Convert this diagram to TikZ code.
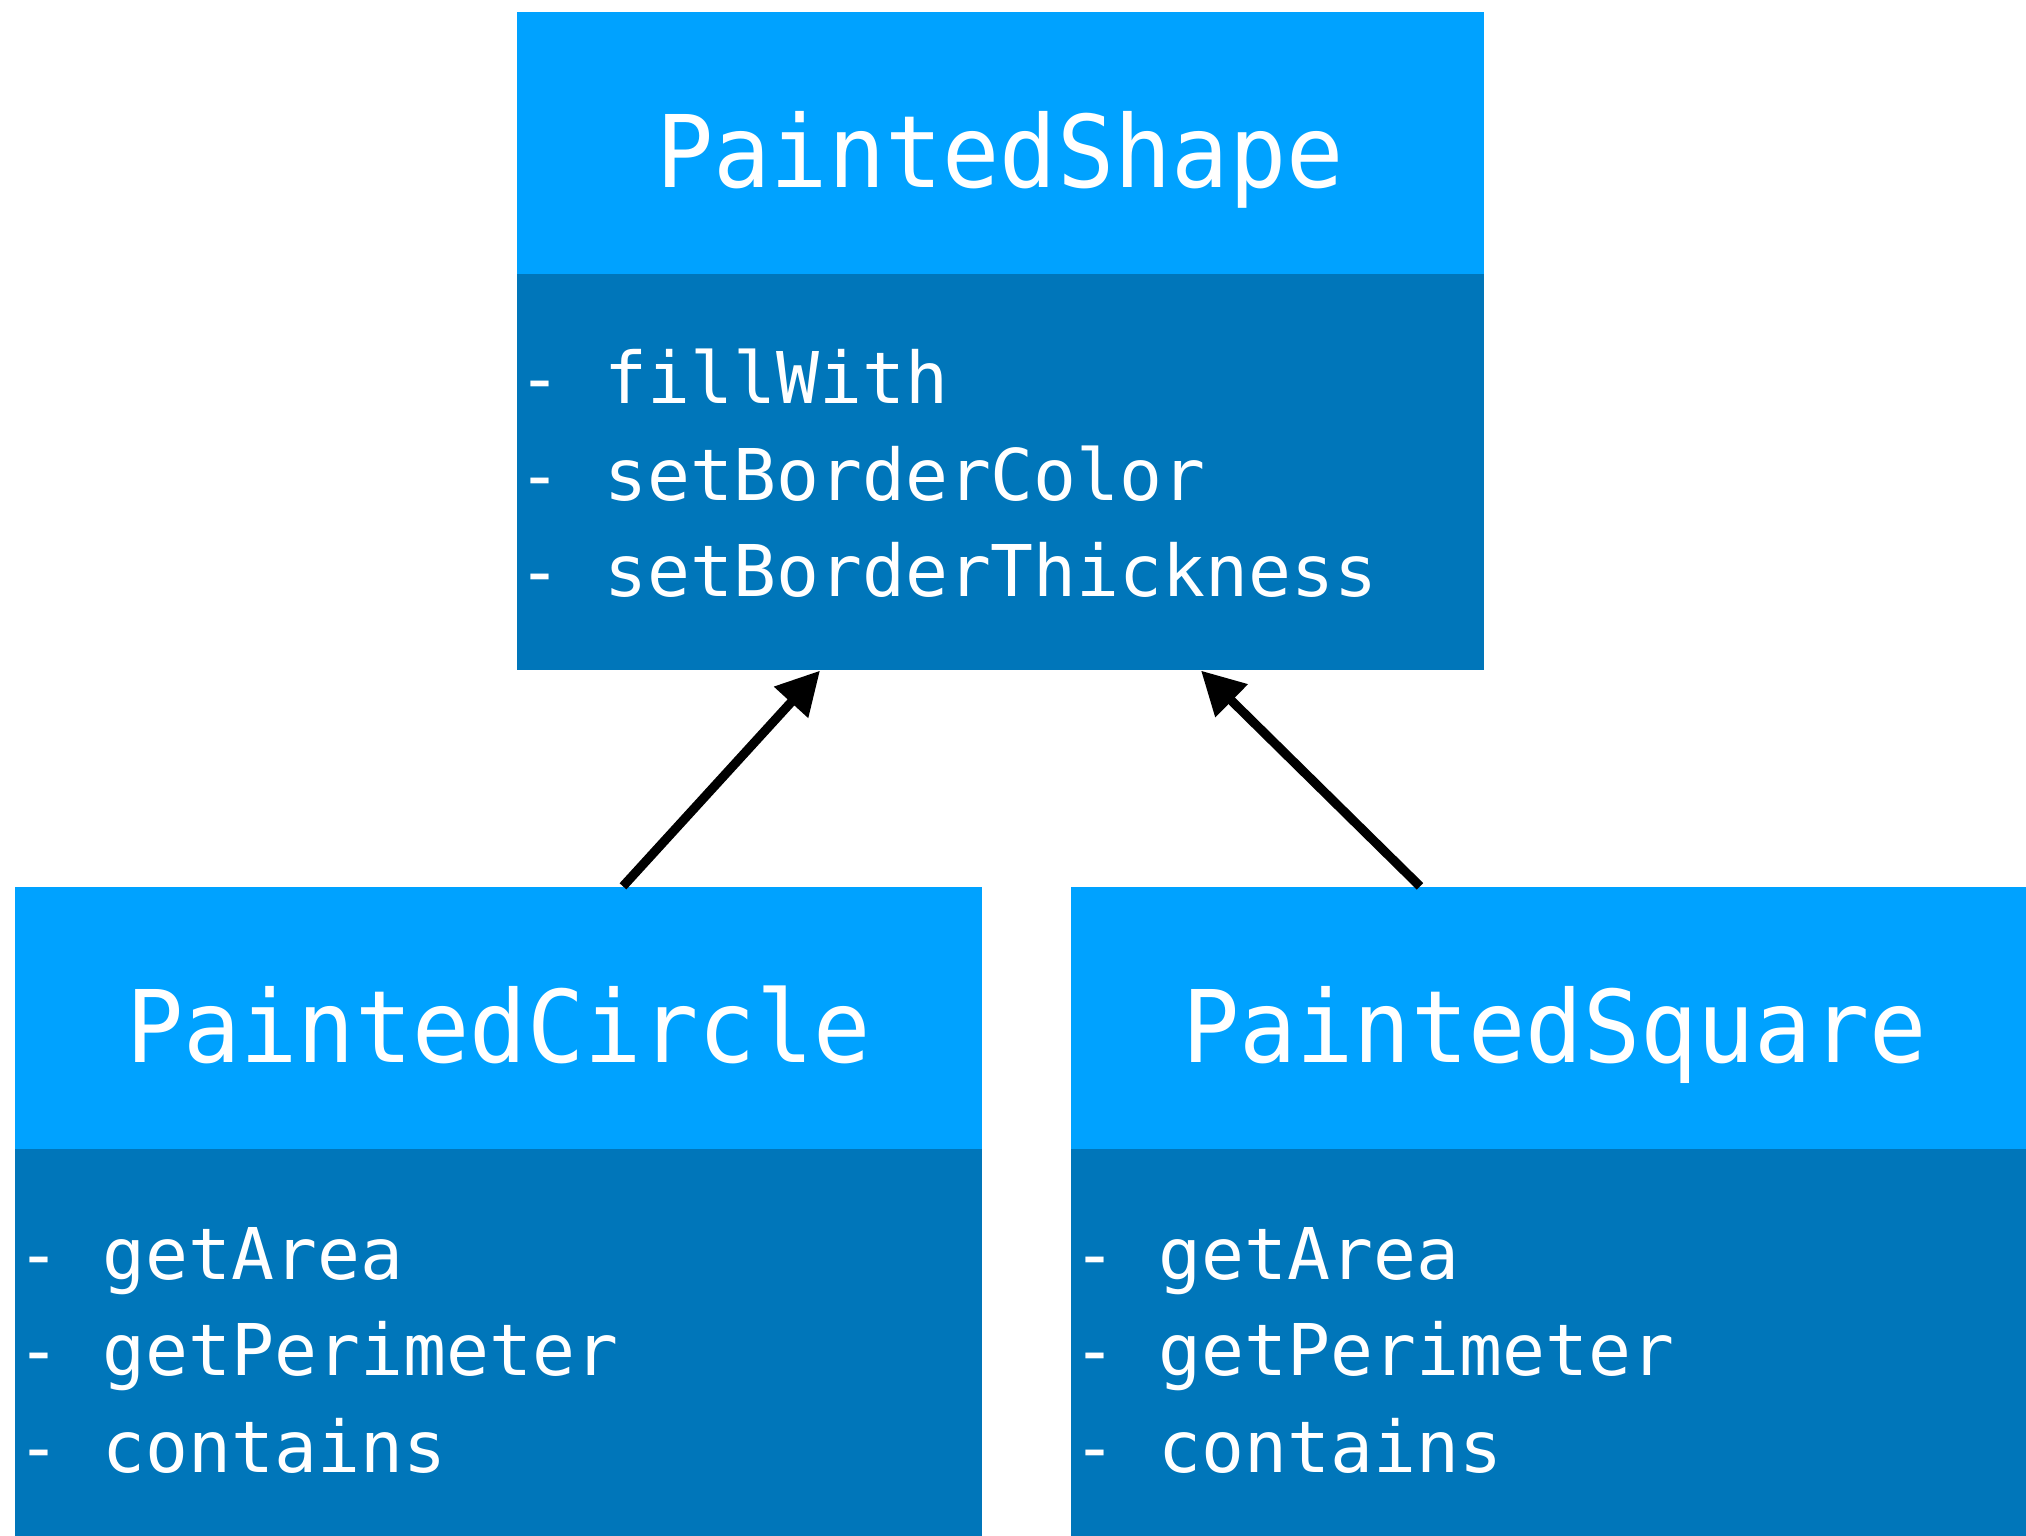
\documentclass[tikz,border=0pt]{standalone}
\usepackage{fontspec}
\usetikzlibrary{positioning,calc,arrows.meta}
\newfontfamily\titlefont[FakeStretch=0.95]{DejaVu Sans Mono}
\newfontfamily\itemfont{DejaVu Sans Mono}
\definecolor{headblue}{HTML}{00A2FF}
\definecolor{bodyblue}{HTML}{0076BA}
\tikzset{
  head/.style={fill=headblue, minimum width=9.67cm, minimum height=2.63cm, inner sep=0pt},
  body/.style={fill=bodyblue, minimum width=9.67cm, minimum height=3.96cm, inner sep=0pt},
  title/.style={text=white, font=\titlefont\fontsize{28.5}{34}\selectfont, anchor=base, inner sep=0pt},
  item/.style={text=white, font=\itemfont\fontsize{20.3}{24}\selectfont, anchor=base west, inner sep=0pt},
  inherit/.style={-{Triangle[length=4.3mm,width=4.4mm]}, line width=2.6pt}
}
\begin{document}
\begin{tikzpicture}
\useasboundingbox (0,0) rectangle (20.26,-15.35);
\clip (0,0) rectangle (20.26,-15.35);
% PaintedShape
\node[head] (shapehead) at (10.00,-1.43) {};
\node[body,below=-0.02cm of shapehead] (shapebody) {};
\node[title] (shapetitle) at ([yshift=-4.4mm]shapehead.center) {PaintedShape};
\foreach \m [count=\i] in {fillWith,setBorderColor,setBorderThickness}
  \node[item] (shapeitem\i) at ($(shapebody.north west)+(0.02,{-1.305-0.965*(\i-1)})$) {- \m};
% PaintedCircle
\node[head] (circlehead) at (4.985,-10.185) {};
\node[body,below=-0.02cm of circlehead] (circlebody) {};
\node[title] (circletitle) at ([yshift=-4.4mm]circlehead.center) {PaintedCircle};
\foreach \m [count=\i] in {getArea,getPerimeter,contains}
  \node[item] (circleitem\i) at ($(circlebody.north west)+(0.02,{-1.305-0.965*(\i-1)})$) {- \m};
% PaintedSquare
\node[head] (squarehead) at (15.545,-10.185) {};
\node[body,below=-0.02cm of squarehead] (squarebody) {};
\node[title] (squaretitle) at ([yshift=-4.4mm]squarehead.center) {PaintedSquare};
\foreach \m [count=\i] in {getArea,getPerimeter,contains}
  \node[item] (squareitem\i) at ($(squarebody.north west)+(0.02,{-1.305-0.965*(\i-1)})$) {- \m};
% inheritance
\draw[inherit] ([xshift=12.45mm]circlehead.north) -- ([xshift=-18mm]shapebody.south);
\draw[inherit] ([xshift=-13.45mm]squarehead.north) -- ([xshift=20.1mm]shapebody.south);
\end{tikzpicture}
\end{document}
